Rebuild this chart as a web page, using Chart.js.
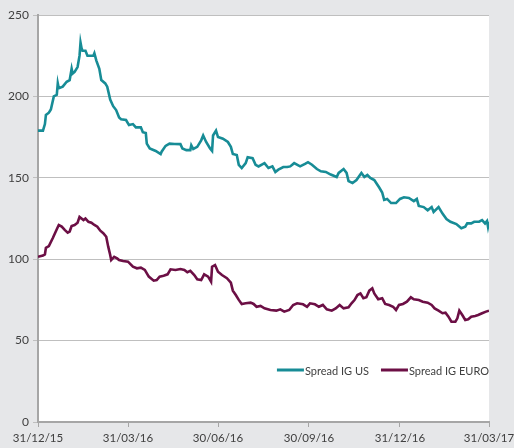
<!DOCTYPE html>
<html>
<head>
<meta charset="utf-8">
<script src="https://cdn.jsdelivr.net/npm/chart.js@4/dist/chart.umd.min.js"></script>
<style>
  html, body { margin: 0; padding: 0; background: #e6e7e9; }
  canvas { display: block; }
</style>
</head>
<body>
<canvas id="spread-chart" width="514" height="448"></canvas>
<script>
// days counted from 31/12/15
const xTickDays = [0, 91, 182, 274, 366, 456];
const xTickLabels = ["31/12/15", "31/03/16", "30/06/16", "30/09/16", "31/12/16", "31/03/17"];

const usDays = [0, 5, 7, 8, 11, 13, 16, 19, 20, 21, 25, 29, 32, 34, 35, 37, 40, 42, 43, 44, 45, 48, 50, 53, 56, 57, 59, 62, 64, 68, 70, 73, 76, 79, 82, 84, 89, 92, 96, 99, 104, 106, 109, 110, 113, 119, 124, 125, 129, 133, 138, 144, 146, 150, 154, 155, 157, 161, 165, 167, 170, 174, 176, 177, 179, 180, 182, 187, 192, 195, 197, 201, 203, 206, 210, 212, 217, 220, 223, 229, 233, 237, 240, 243, 248, 252, 255, 259, 265, 270, 273, 277, 282, 286, 291, 296, 302, 304, 309, 312, 314, 318, 322, 327, 330, 333, 336, 340, 345, 348, 350, 353, 357, 362, 366, 370, 375, 380, 383, 385, 390, 394, 398, 400, 405, 409, 413, 417, 423, 428, 432, 434, 438, 441, 446, 449, 452, 454, 455, 456];
const usValues = [179, 179, 183, 188.6, 190, 192, 200, 201, 208, 205, 206, 209, 210, 217, 214, 215, 218, 225, 233, 229.7, 228, 228, 225, 225, 225, 226.5, 222, 217, 210, 208, 206, 198, 194, 191.6, 187, 186, 185.5, 182.4, 183, 181, 181, 178, 177.5, 171, 168, 166.5, 164.6, 166, 169.6, 171, 170.8, 170.7, 168, 167, 167, 170, 167.7, 169, 173, 176, 172, 168, 166.5, 176, 178, 179, 175, 174, 172, 169, 164.6, 164, 158, 156, 159, 162.6, 162, 158, 157, 159, 156, 157, 153.6, 155, 156.6, 156.6, 157, 159, 157, 158.5, 159.6, 158, 155.4, 154, 153.6, 152, 150.5, 153, 155.4, 153, 148, 146.8, 148.6, 153, 150.5, 151.7, 149.9, 148.6, 144, 141, 136.4, 137, 134.5, 134.5, 137, 138, 137.6, 135.7, 137, 132.7, 132, 130, 132, 129, 132, 128, 124.7, 123, 121.6, 119, 120, 122, 122, 123, 123, 124, 122, 123.5, 120, 123];

const euroDays = [0, 5, 7, 8, 11, 15, 19, 21, 24, 27, 30, 32, 34, 37, 40, 42, 44, 46, 48, 51, 54, 57, 60, 63, 66, 69, 71, 73, 74, 77, 80, 82, 86, 91, 96, 100, 104, 108, 112, 117, 120, 123, 127, 131, 134, 139, 144, 148, 151, 154, 158, 161, 165, 168, 172, 175, 176, 179, 182, 186, 191, 195, 197, 200, 203, 206, 210, 215, 218, 221, 225, 229, 235, 241, 245, 249, 254, 258, 262, 268, 272, 275, 280, 284, 288, 292, 297, 301, 305, 309, 314, 317, 320, 323, 326, 329, 332, 335, 338, 340, 344, 348, 351, 355, 359, 362, 365, 369, 373, 377, 380, 385, 389, 394, 398, 401, 405, 409, 412, 415, 418, 422, 424, 426, 429, 432, 435, 438, 442, 445, 449, 453, 456];
const euroValues = [101.5, 102.3, 103, 107, 108, 113, 118.4, 121, 120, 118, 116.3, 117, 120.4, 121, 122.4, 126, 125, 124, 125, 123, 122.4, 121, 120, 117.5, 116, 113.8, 107.7, 102.6, 99.5, 101.5, 100.5, 99.5, 98.9, 98.5, 95.4, 94.4, 94.8, 93.4, 89.3, 86.8, 87.2, 89.3, 89.9, 90.7, 93.8, 93.4, 94, 93.4, 92, 92.8, 90.3, 87.7, 87.2, 90.7, 89.3, 86.2, 95.4, 96.4, 92.3, 90.3, 88.3, 85.6, 80.7, 78, 75, 72.5, 72.9, 73.3, 72.5, 70.8, 71.3, 69.8, 68.8, 68.4, 69.2, 67.8, 68.8, 71.9, 72.9, 72.3, 70.8, 72.9, 72.3, 70.8, 71.9, 69.2, 68.4, 69.8, 71.9, 69.8, 70.4, 72.9, 74.9, 78, 79, 76, 76.6, 80.7, 82.1, 79, 75.4, 76, 72.5, 71.9, 70.8, 68.8, 71.9, 72.5, 73.9, 76.6, 75.4, 74.9, 73.9, 73.3, 71.9, 69.8, 68.4, 66.8, 67.1, 64.7, 61.6, 61.6, 63.7, 68.4, 65.7, 62.7, 63.1, 64.7, 65.1, 65.7, 66.8, 67.8, 68.4];

const yTicks = { min: 0, max: 250, step: 50 };

(() => {
  const canvasEl = document.getElementById("spread-chart");
  if (!canvasEl) return;

  const toPoints = (days, values) => days.map((d, i) => ({ x: d, y: values[i] }));

  Chart.defaults.font.family = "Lato, 'Open Sans', sans-serif";
  Chart.defaults.font.size = 12;
  Chart.defaults.color = "#404040";

  // white plot area on the grey page
  const plotBackground = {
    id: "plotBackground",
    beforeDraw(chart) {
      const { ctx, chartArea: a } = chart;
      ctx.save();
      ctx.fillStyle = "#ffffff";
      ctx.fillRect(a.left, a.top, a.right - a.left, a.bottom - a.top);
      ctx.restore();
    },
  };

  // legend sits inside the plot, bottom right
  const insideLegend = {
    id: "insideLegend",
    afterDatasetsDraw(chart) {
      const { ctx, chartArea: a } = chart;
      const y = a.bottom - 52;
      let x = a.right;
      ctx.save();
      ctx.font = "11px Lato, 'Open Sans', sans-serif";
      ctx.textBaseline = "middle";
      ctx.textAlign = "right";
      const items = chart.data.datasets.slice().reverse();
      items.forEach((ds) => {
        const w = ctx.measureText(ds.label).width;
        ctx.fillStyle = "#404040";
        ctx.fillText(ds.label, x, y + 1);
        x -= w + 1;
        ctx.strokeStyle = ds.borderColor;
        ctx.lineWidth = 3;
        ctx.beginPath();
        ctx.moveTo(x - 27, y);
        ctx.lineTo(x, y);
        ctx.stroke();
        x -= 27 + 12;
      });
      ctx.restore();
    },
  };

  new Chart(canvasEl, {
    type: "line",
    data: {
      datasets: [
        {
          label: "Spread IG US",
          data: toPoints(usDays, usValues),
          borderColor: "#178c96",
          borderWidth: 2.6,
          pointRadius: 0,
          tension: 0,
        },
        {
          label: "Spread IG EURO",
          data: toPoints(euroDays, euroValues),
          borderColor: "#6c0f45",
          borderWidth: 2.6,
          pointRadius: 0,
          tension: 0,
        },
      ],
    },
    options: {
      responsive: false,
      animation: false,
      layout: { padding: { top: 15, right: 25, left: 0, bottom: 0 } },
      plugins: {
        legend: { display: false },
        tooltip: { enabled: false },
      },
      scales: {
        x: {
          type: "linear",
          min: xTickDays[0],
          max: xTickDays[xTickDays.length - 1],
          afterBuildTicks: (scale) => {
            scale.ticks = xTickDays.map((v) => ({ value: v }));
          },
          afterFit: (scale) => {
            scale.height = 26;
            // let the last label run to the page edge, like the original
            scale.paddingRight = 0;
            scale.paddingLeft = 0;
          },
          ticks: {
            autoSkip: false,
            maxRotation: 0,
            padding: 4,
            font: { size: 11.5 },
            callback: (v) => xTickLabels[xTickDays.indexOf(v)],
          },
          grid: { drawOnChartArea: false, tickLength: 5, color: "#a6a6a6", lineWidth: 1 },
          border: { color: "#a6a6a6", width: 2 },
        },
        y: {
          min: yTicks.min,
          max: yTicks.max,
          afterFit: (scale) => {
            scale.width = 38;
          },
          ticks: { stepSize: yTicks.step, padding: 4 },
          grid: { color: "#bfbfbf", lineWidth: 1, tickLength: 5 },
          border: { color: "#a6a6a6", width: 2 },
        },
      },
    },
    plugins: [plotBackground, insideLegend],
  });
})();
</script>
</body>
</html>
